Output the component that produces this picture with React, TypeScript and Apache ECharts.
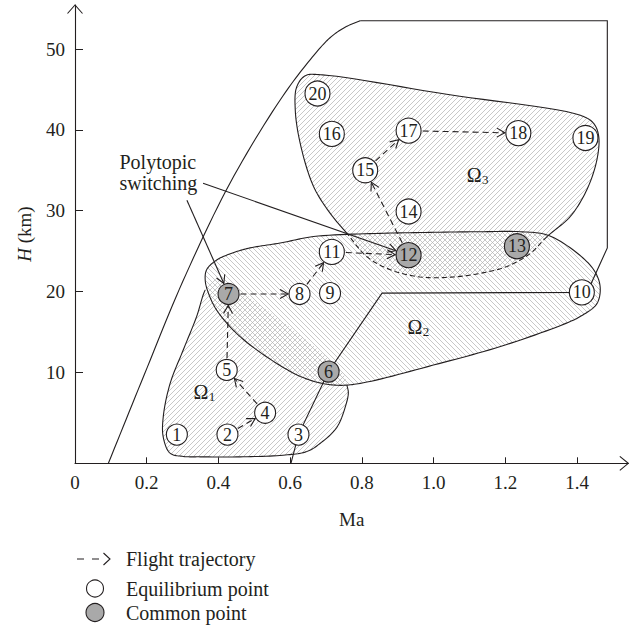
import React, { useEffect, useRef } from 'react';
import * as echarts from 'echarts';

const FONT = '"Liberation Serif", "Times New Roman", serif';
const INK = '#231f20';
const COMMON_FILL = '#a9a9a9';

// Axis ranges (Mach number / altitude in km)
const MA_MIN = 0;
const MA_MAX = 1.5425;
const H_MIN = -1.25;
const H_MAX = 55.45;
const maTicks = [0, 0.2, 0.4, 0.6, 0.8, 1.0, 1.2, 1.4];
const maTickMarks = [0.2, 0.4, 0.6, 0.8, 1.0, 1.2, 1.4];
const hTicks = [10, 20, 30, 40, 50];

// Equilibrium points of the flight envelope
const pointIds = [1, 2, 3, 4, 5, 6, 7, 8, 9, 10, 11, 12, 13, 14, 15, 16, 17, 18, 19, 20];
const pointMa = [0.284, 0.425, 0.623, 0.53, 0.423, 0.707, 0.428, 0.626, 0.711, 1.413, 0.716, 0.93, 1.232, 0.93, 0.809, 0.716, 0.93, 1.236, 1.423, 0.676];
const pointH = [2.3, 2.3, 2.3, 5.0, 10.3, 10.1, 19.7, 19.7, 19.8, 19.9, 24.9, 24.5, 25.6, 29.9, 35.0, 39.5, 39.9, 39.6, 39.0, 44.5];
// Points shared by two polytopes
const commonIds = [6, 7, 12, 13];

// Flight trajectory through the points
const trajectory = [2, 4, 5, 7, 8, 11, 12, 15, 17, 18];

// Polytope Ω1: first vertices form the drawn outline, the rest lies inside Ω2
const omega1 = [
  [0.758, 8.4], [0.762, 7.5], [0.756, 6.1], [0.73, 3.2], [0.683, 1.2], [0.646, 0.2], [0.58, -0.25],
  [0.46, -0.45], [0.349, -0.45], [0.302, -0.4], [0.265, 0.0], [0.246, 2.0], [0.246, 4.5], [0.265, 8.6],
  [0.302, 12.8], [0.339, 16.9], [0.363, 20.2],
  [0.382, 21.4], [0.418, 21.3], [0.516, 18.3], [0.628, 14.6], [0.711, 11.5], [0.75, 9.7],
];
const omega1Outlined = 16;

// Polytope Ω2
const omega2 = [
  [0.363, 21.4], [0.367, 22.7], [0.395, 23.9], [0.441, 24.8], [0.488, 25.4], [0.572, 26.0], [0.665, 26.8],
  [0.851, 27.2], [0.962, 27.3], [1.13, 27.4], [1.241, 27.4], [1.316, 27.0], [1.39, 25.1], [1.446, 22.7],
  [1.464, 20.6], [1.455, 18.5], [1.412, 17.0], [1.365, 16.0], [1.186, 13.2], [0.999, 10.9], [0.814, 8.8],
  [0.748, 8.4], [0.693, 8.6], [0.628, 9.5], [0.535, 11.9], [0.451, 14.8], [0.395, 17.7], [0.372, 19.8],
];

// Polytope Ω3: first vertices are the hidden (dashed) part inside Ω2
const omega3 = [
  [1.316, 26.8], [1.269, 24.7], [1.204, 23.1], [1.13, 22.25], [1.055, 21.8], [0.962, 21.8], [0.879, 22.7],
  [0.814, 24.3], [0.758, 27.2],
  [0.711, 29.7], [0.665, 33.0], [0.628, 38.3], [0.614, 42.5], [0.618, 45.3], [0.642, 46.7], [0.69, 46.8],
  [1.036, 44.4], [1.409, 41.8], [1.446, 40.8], [1.46, 39.2], [1.455, 36.3], [1.427, 32.6], [1.381, 29.3],
];
const omega3Dashed = 8;

// Flight corridor boundary
const corridorCurve = [
  [0.093, -1.25], [0.193, 9.7], [0.3, 21.2], [0.432, 33.4], [0.572, 43.7], [0.656, 48.7],
  [0.711, 51.4], [0.753, 52.7], [0.795, 53.5],
];
const corridorEdges = [
  [0.795, 53.5], [1.484, 53.5], [1.484, 25.4], [1.437, 20.8], [1.413, 19.9], [0.856, 19.8],
  [0.707, 10.1], [0.623, 2.3], [0.602, -1.25],
];

// Annotations
const switchText = ['Polytopic', 'switching'];
const switchTextAt = [[0.124, 36.06], [0.124, 33.39]];
const switchArrowFrom = [[0.357, 33.4], [0.312, 31.3]];
const switchArrowTo = [12, 7];

const omegaSubs = ['1', '2', '3'];
const omegaAt = [[0.351, 7.6], [0.948, 15.64], [1.113, 34.42]];

const radiusOf = (id: number) => (String(id).length > 1 ? 12.5 : 10.5);

// Centripetal Catmull-Rom through pixel points
function spline(pts: number[][], closed: boolean, steps = 12): number[][] {
  const n = pts.length;
  const out: number[][] = [];
  const get = (i: number) => {
    if (closed) return pts[(i + n) % n];
    if (i < 0) return [2 * pts[0][0] - pts[1][0], 2 * pts[0][1] - pts[1][1]];
    if (i > n - 1) return [2 * pts[n - 1][0] - pts[n - 2][0], 2 * pts[n - 1][1] - pts[n - 2][1]];
    return pts[i];
  };
  const knot = (a: number[], b: number[]) => Math.max(Math.sqrt(Math.hypot(b[0] - a[0], b[1] - a[1])), 1e-4);
  const lerp = (a: number[], b: number[], ta: number, tb: number, t: number) =>
    [0, 1].map((k) => ((tb - t) / (tb - ta)) * a[k] + ((t - ta) / (tb - ta)) * b[k]);
  const segs = closed ? n : n - 1;
  for (let i = 0; i < segs; i++) {
    const p0 = get(i - 1), p1 = get(i), p2 = get(i + 1), p3 = get(i + 2);
    const t0 = 0, t1 = t0 + knot(p0, p1), t2 = t1 + knot(p1, p2), t3 = t2 + knot(p2, p3);
    for (let s = 0; s < steps; s++) {
      const t = t1 + ((t2 - t1) * s) / steps;
      const a1 = lerp(p0, p1, t0, t1, t);
      const a2 = lerp(p1, p2, t1, t2, t);
      const a3 = lerp(p2, p3, t2, t3, t);
      const b1 = lerp(a1, a2, t0, t2, t);
      const b2 = lerp(a2, a3, t1, t3, t);
      out.push(lerp(b1, b2, t1, t2, t));
    }
  }
  if (!closed) out.push(pts[n - 1]);
  return out;
}

function hatch(dir: 'up' | 'down') {
  const d = dir === 'up'
    ? 'M0,5 L5,0 M-1,1 L1,-1 M4,6 L6,4'
    : 'M0,0 L5,5 M-1,4 L1,6 M4,-1 L6,1';
  const svg = `<svg xmlns="http://www.w3.org/2000/svg" width="5" height="5"><path d="${d}" stroke="#b0b0b0" stroke-width="0.7" fill="none"/></svg>`;
  return {
    image: 'data:image/svg+xml;charset=utf-8,' + encodeURIComponent(svg),
    repeat: 'repeat',
    imageWidth: 5,
    imageHeight: 5,
  };
}

function chevron(tip: number[], u: number[], len = 8, half = 4.5) {
  const p = [-u[1], u[0]];
  return [
    [tip[0] - u[0] * len + p[0] * half, tip[1] - u[1] * len + p[1] * half],
    tip,
    [tip[0] - u[0] * len - p[0] * half, tip[1] - u[1] * len - p[1] * half],
  ];
}

const pointOf = (id: number) => {
  const i = pointIds.indexOf(id);
  return [pointMa[i], pointH[i]];
};

const lineStyle = (extra: any = {}) => ({ stroke: INK, lineWidth: 1.1, fill: null, ...extra });

export default function App() {
  const ref = useRef<HTMLDivElement>(null);

  useEffect(() => {
    if (!ref.current) return;
    const chart = echarts.init(ref.current, null, { renderer: 'svg' });

    const coordsOf = (api: any, pts: number[][]) => pts.map((p) => api.coord(p));

    const regionsItem = (_params: any, api: any) => {
      const steps = 12;
      const o1 = spline(coordsOf(api, omega1), true, steps);
      const o2 = spline(coordsOf(api, omega2), true, steps);
      const o3 = spline(coordsOf(api, omega3), true, steps);
      const o3Dash = o3.slice(0, omega3Dashed * steps + 1);
      const o3Solid = o3.slice(omega3Dashed * steps).concat([o3[0]]);
      return {
        type: 'group',
        children: [
          { type: 'polygon', shape: { points: o1 }, style: { fill: hatch('up'), stroke: null } },
          { type: 'polygon', shape: { points: o2 }, style: { fill: hatch('down'), stroke: null } },
          { type: 'polygon', shape: { points: o3 }, style: { fill: hatch('up'), stroke: null } },
          { type: 'polyline', shape: { points: o1.slice(0, omega1Outlined * steps + 1) }, style: lineStyle() },
          { type: 'polygon', shape: { points: o2 }, style: lineStyle() },
          { type: 'polyline', shape: { points: o3Solid }, style: lineStyle() },
          { type: 'polyline', shape: { points: o3Dash }, style: lineStyle({ lineDash: [5, 3] }) },
        ],
      };
    };

    const corridorItem = (_params: any, api: any) => {
      const curve = spline(coordsOf(api, corridorCurve), false, 12);
      const edges = coordsOf(api, corridorEdges);
      const xEnd = api.coord([MA_MAX, H_MIN]);
      const yEnd = api.coord([MA_MIN, H_MAX]);
      return {
        type: 'group',
        children: [
          { type: 'polyline', shape: { points: curve }, style: lineStyle() },
          { type: 'polyline', shape: { points: edges }, style: lineStyle() },
          { type: 'polyline', shape: { points: chevron(xEnd, [1, 0], 8.5, 7) }, style: lineStyle() },
          { type: 'polyline', shape: { points: chevron(yEnd, [0, -1], 8.5, 7.5) }, style: lineStyle() },
        ],
      };
    };

    const arrowBetween = (api: any, fromPx: number[], fromGap: number, toId: number, dashed: boolean) => {
      const b = api.coord(pointOf(toId));
      const dx = b[0] - fromPx[0], dy = b[1] - fromPx[1];
      const len = Math.hypot(dx, dy);
      const u = [dx / len, dy / len];
      const start = [fromPx[0] + u[0] * fromGap, fromPx[1] + u[1] * fromGap];
      const rb = radiusOf(toId) + 1;
      const tip = [b[0] - u[0] * rb, b[1] - u[1] * rb];
      return [
        { type: 'polyline', shape: { points: [start, tip] }, style: lineStyle(dashed ? { lineDash: [6, 4] } : {}) },
        { type: 'polyline', shape: { points: chevron(tip, u, 8, 4.5) }, style: lineStyle() },
      ];
    };

    const trajectoryItem = (_params: any, api: any) => {
      const children: any[] = [];
      for (let k = 0; k < trajectory.length - 1; k++) {
        const a = trajectory[k];
        const from = api.coord(pointOf(a));
        children.push(...arrowBetween(api, from, radiusOf(a) + 1.5, trajectory[k + 1], true));
      }
      return { type: 'group', children };
    };

    const annotationItem = (_params: any, api: any) => {
      const children: any[] = [];
      switchText.forEach((t, i) => {
        const p = api.coord(switchTextAt[i]);
        children.push({
          type: 'text', x: p[0], y: p[1],
          style: { text: t, fill: INK, fontSize: 20, fontFamily: FONT, align: 'left', verticalAlign: 'middle' },
        });
      });
      switchArrowFrom.forEach((f, i) => {
        children.push(...arrowBetween(api, api.coord(f), 0, switchArrowTo[i], false));
      });
      omegaSubs.forEach((s, i) => {
        const p = api.coord(omegaAt[i]);
        children.push({
          type: 'text', x: p[0], y: p[1],
          style: { text: 'Ω', fill: INK, fontSize: 20, fontFamily: FONT, align: 'center', verticalAlign: 'middle' },
        });
        children.push({
          type: 'text', x: p[0] + 11, y: p[1] + 5,
          style: { text: s, fill: INK, fontSize: 13, fontFamily: FONT, align: 'center', verticalAlign: 'middle' },
        });
      });
      return { type: 'group', children };
    };

    const allPoints = pointIds.map((id, i) => [pointMa[i], pointH[i], id]);
    const eqPoints = allPoints.filter((d) => !commonIds.includes(d[2]));
    const cmPoints = allPoints.filter((d) => commonIds.includes(d[2]));

    const pointLabel = {
      show: true,
      position: 'inside',
      formatter: (p: any) => String(p.data[2]),
      color: INK,
      fontSize: 18,
      fontFamily: FONT,
    };

    const axisText = { color: INK, fontSize: 19, fontFamily: FONT };
    const legendText = { fill: INK, fontSize: 20, fontFamily: FONT, verticalAlign: 'middle' };

    chart.setOption({
      animation: false,
      textStyle: { fontFamily: FONT },
      grid: { left: 75, right: 10.7, top: 5, bottom: 167.7, containLabel: false },
      xAxis: {
        type: 'value',
        min: MA_MIN,
        max: MA_MAX,
        name: 'Ma',
        nameLocation: 'middle',
        nameGap: 47,
        nameTextStyle: axisText,
        axisLine: { onZero: false, lineStyle: { color: INK, width: 1.1 } },
        axisTick: { inside: true, length: 6, customValues: maTickMarks, lineStyle: { color: INK, width: 1 } },
        axisLabel: {
          ...axisText,
          margin: 10,
          customValues: maTicks,
          formatter: (v: number) => (v === 0 ? '0' : v.toFixed(1)),
        },
        splitLine: { show: false },
      },
      yAxis: {
        type: 'value',
        min: H_MIN,
        max: H_MAX,
        name: '{i|H} (km)',
        nameLocation: 'middle',
        nameGap: 41,
        nameTextStyle: { ...axisText, rich: { i: { ...axisText, fontStyle: 'italic' } } },
        axisLine: { onZero: false, lineStyle: { color: INK, width: 1.1 } },
        axisTick: { inside: true, length: 8, customValues: hTicks, lineStyle: { color: INK, width: 1 } },
        axisLabel: { ...axisText, margin: 10, customValues: hTicks },
        splitLine: { show: false },
      },
      series: [
        { type: 'custom', name: 'regions', renderItem: regionsItem, data: [[0, 0]], z: 1, silent: true },
        { type: 'custom', name: 'corridor', renderItem: corridorItem, data: [[0, 0]], z: 2, silent: true },
        { type: 'custom', name: 'trajectory', renderItem: trajectoryItem, data: [[0, 0]], z: 3, silent: true },
        { type: 'custom', name: 'annotations', renderItem: annotationItem, data: [[0, 0]], z: 4, silent: true },
        {
          type: 'scatter', name: 'Equilibrium point', data: eqPoints, z: 5,
          symbolSize: (v: number[]) => 2 * radiusOf(v[2]),
          itemStyle: { color: '#ffffff', borderColor: INK, borderWidth: 1.1, opacity: 1 },
          label: pointLabel,
        },
        {
          type: 'scatter', name: 'Common point', data: cmPoints, z: 5,
          symbolSize: (v: number[]) => 2 * radiusOf(v[2]),
          itemStyle: { color: COMMON_FILL, borderColor: INK, borderWidth: 1.1, opacity: 1 },
          label: pointLabel,
        },
      ],
      graphic: [
        { type: 'polyline', shape: { points: [[77, 559], [100, 559]] }, style: { stroke: INK, lineWidth: 1.1, lineDash: [7, 8], fill: null } },
        { type: 'polyline', shape: { points: [[103.5, 553], [110, 559], [103.5, 565]] }, style: { stroke: INK, lineWidth: 1.1, fill: null } },
        { type: 'text', x: 126, y: 559, style: { text: 'Flight trajectory', ...legendText } },
        { type: 'circle', shape: { cx: 95, cy: 588.5, r: 8.5 }, style: { fill: '#ffffff', stroke: INK, lineWidth: 1.1 } },
        { type: 'text', x: 126, y: 588.5, style: { text: 'Equilibrium point', ...legendText } },
        { type: 'circle', shape: { cx: 95, cy: 612.5, r: 9 }, style: { fill: COMMON_FILL, stroke: INK, lineWidth: 1.1 } },
        { type: 'text', x: 126, y: 612.5, style: { text: 'Common point', ...legendText } },
      ],
    });

    return () => chart.dispose();
  }, []);

  return (
    <div
      ref={ref}
      style={{ position: 'fixed', left: 0, top: 0, width: 639, height: 631, background: '#ffffff' }}
    />
  );
}
